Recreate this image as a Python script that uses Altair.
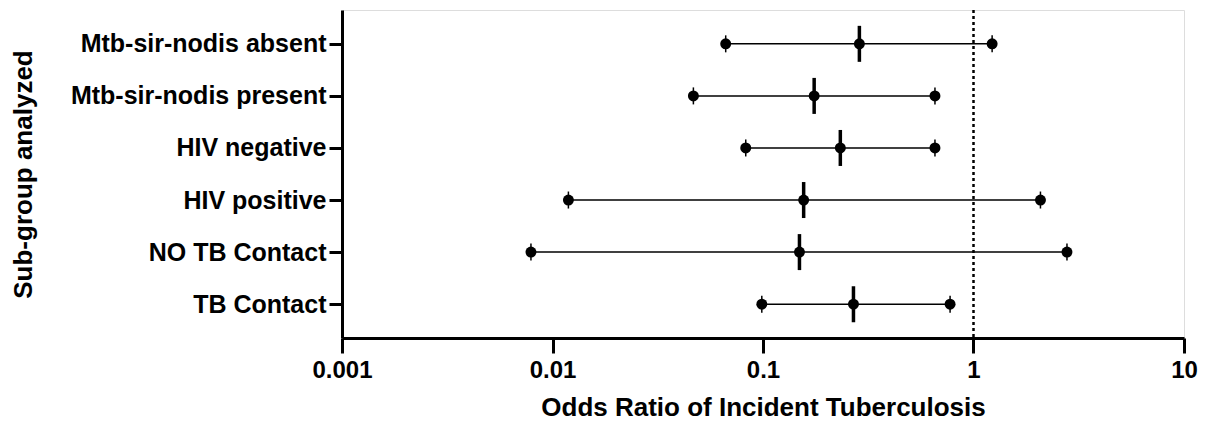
import altair as alt
import pandas as pd

subgroups = [
    "Mtb-sir-nodis absent",
    "Mtb-sir-nodis present",
    "HIV negative",
    "HIV positive",
    "NO TB Contact",
    "TB Contact",
]
odds_ratio = [0.287, 0.175, 0.233, 0.156, 0.149, 0.269]
ci_low = [0.0665, 0.0467, 0.0828, 0.0119, 0.0079, 0.0987]
ci_high = [1.226, 0.656, 0.656, 2.08, 2.78, 0.774]
x_ticks = [0.001, 0.01, 0.1, 1, 10]
ref_value = [1]

df = pd.DataFrame({"group": subgroups, "or": odds_ratio, "lo": ci_low, "hi": ci_high})
ends = pd.concat([
    pd.DataFrame({"group": subgroups, "v": ci_low}),
    pd.DataFrame({"group": subgroups, "v": ci_high}),
])
ref_df = pd.DataFrame({"x": ref_value})

FONT = "Liberation Sans"

xscale = alt.Scale(type="log", domain=[0.001, 10], nice=False)
yscale = alt.Scale(type="point", padding=0.65)

xaxis = alt.Axis(
    values=x_ticks,
    format="~g",
    title="Odds Ratio of Incident Tuberculosis",
    grid=False,
    domainColor="black", domainWidth=3,
    tickColor="black", tickWidth=3, tickSize=15,
    labelFont=FONT, labelFontSize=24, labelFontWeight="bold", labelColor="black",
    labelPadding=5, labelFlush=False, labelOverlap=False,
    titleFont=FONT, titleFontSize=26, titleFontWeight="bold", titleColor="black",
    titlePadding=12,
)
yaxis = alt.Axis(
    title="Sub-group analyzed",
    grid=False,
    domainColor="black", domainWidth=3,
    tickColor="black", tickWidth=3, tickSize=13,
    labelFont=FONT, labelFontSize=25, labelFontWeight="bold", labelColor="black",
    labelPadding=3, labelLimit=400,
    titleFont=FONT, titleFontSize=26, titleFontWeight="bold", titleColor="black",
    titleX=-319, titleAngle=-90, titleAlign="center", titleBaseline="middle",
)

y_enc = alt.Y("group:N", sort=subgroups, scale=yscale, axis=yaxis)

rules = alt.Chart(df).mark_rule(color="black", strokeWidth=1.5).encode(
    x=alt.X("lo:Q", scale=xscale, axis=xaxis),
    x2="hi:Q",
    y=y_enc,
)

end_ticks = alt.Chart(ends).mark_tick(color="black", thickness=1.5, size=17, opacity=1).encode(
    x=alt.X("v:Q", scale=xscale),
    y=alt.Y("group:N", sort=subgroups, scale=yscale),
)
end_dots = alt.Chart(ends).mark_circle(color="black", size=120, opacity=1).encode(
    x=alt.X("v:Q", scale=xscale),
    y=alt.Y("group:N", sort=subgroups, scale=yscale),
)
mid_ticks = alt.Chart(df).mark_tick(color="black", thickness=3.5, size=36, opacity=1).encode(
    x=alt.X("or:Q", scale=xscale),
    y=alt.Y("group:N", sort=subgroups, scale=yscale),
)
mid_dots = alt.Chart(df).mark_circle(color="black", size=120, opacity=1).encode(
    x=alt.X("or:Q", scale=xscale),
    y=alt.Y("group:N", sort=subgroups, scale=yscale),
)
ref = alt.Chart(ref_df).mark_rule(color="black", strokeWidth=2.5, strokeDash=[3, 3]).encode(
    x=alt.X("x:Q", scale=xscale),
)

chart = alt.layer(ref, rules, end_ticks, end_dots, mid_ticks, mid_dots).properties(
    width=842,
    height=328,
    autosize=alt.AutoSizeParams(type="none"),
    padding={"left": 334, "top": 2, "right": 14, "bottom": 82},
).configure_view(stroke=None).configure(background="white")

chart.save("out.html", embed_options={"renderer": "svg", "actions": False})
